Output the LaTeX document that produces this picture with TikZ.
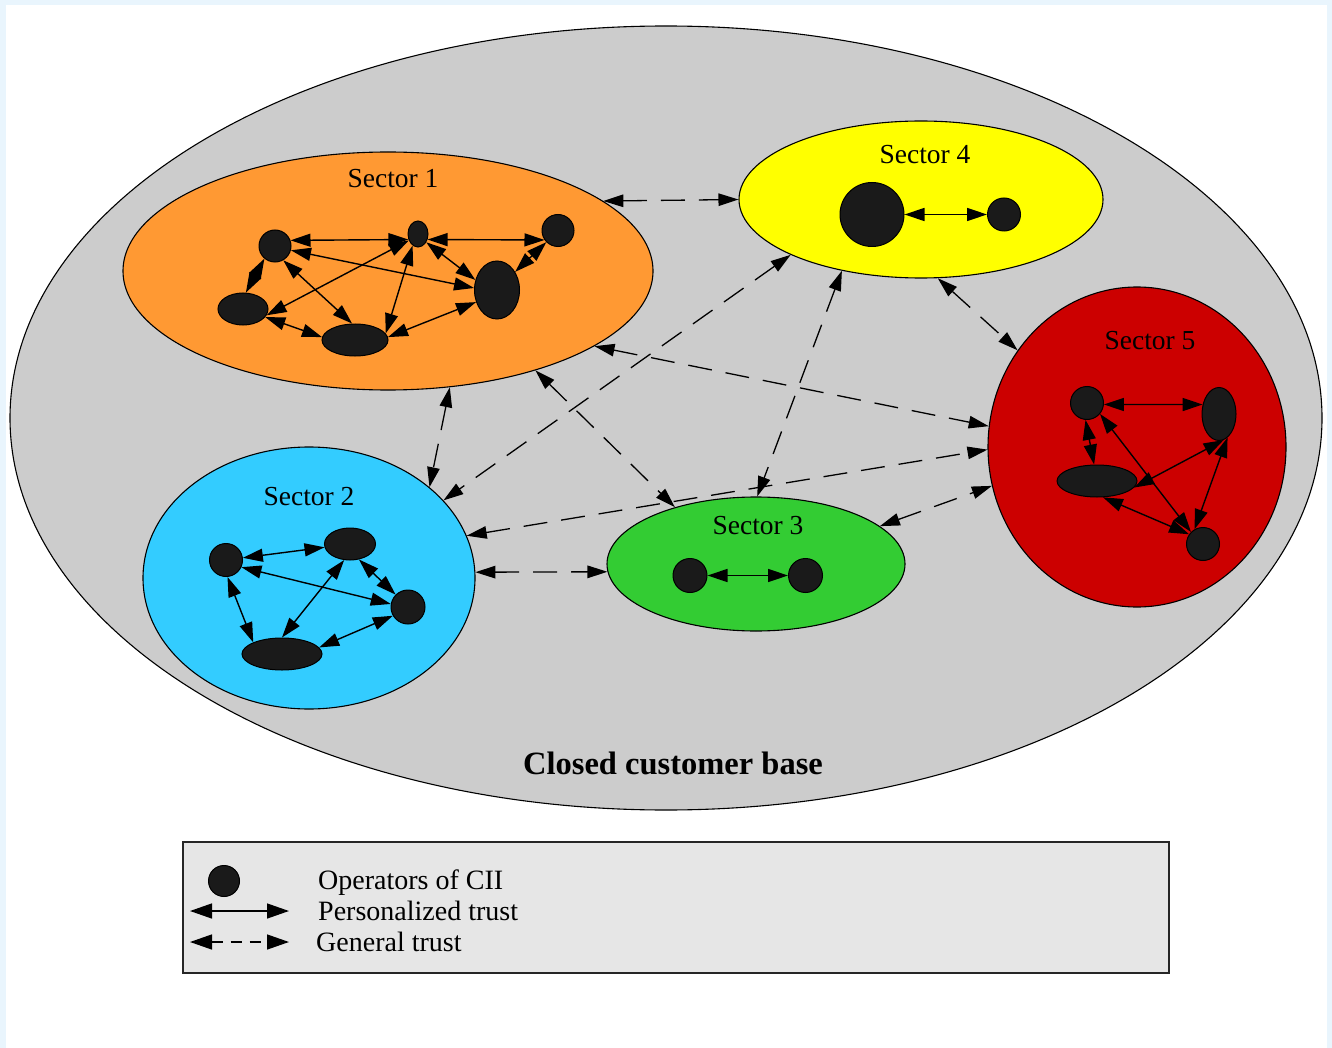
\documentclass[tikz,border=0pt]{standalone}
\usepackage{fontspec}
\setmainfont{Liberation Serif}
\usetikzlibrary{shapes.geometric,arrows.meta}
\definecolor{framebg}{HTML}{E9F5FD}
\definecolor{basegray}{HTML}{CCCCCC}
\definecolor{s1col}{HTML}{FF9933}
\definecolor{s2col}{HTML}{33CCFF}
\definecolor{s3col}{HTML}{33CC33}
\definecolor{s4col}{HTML}{FFFF00}
\definecolor{s5col}{HTML}{CC0000}
\definecolor{opfill}{HTML}{1A1A1A}
\definecolor{legendbg}{HTML}{E6E6E6}

\begin{document}
\begin{tikzpicture}[x=1pt,y=-1pt,
  sector/.style={ellipse, draw=black, line width=1.1pt, inner sep=0pt},
  op/.style 2 args={ellipse, draw=black, fill=opfill, line width=1pt, inner sep=0pt,
                    minimum width=#1pt, minimum height=#2pt},
  ptrust/.style={arrows={Triangle[length=20pt,width=13pt]-Triangle[length=20pt,width=13pt]},
                 line width=1.4pt},
  gtrust/.style={arrows={Triangle[length=20pt,width=12.5pt]-Triangle[length=20pt,width=12.5pt]},
                 line width=1.3pt, dash pattern=on 24pt off 14pt},
  legp/.style={arrows={Triangle[length=22pt,width=15pt]-Triangle[length=22pt,width=15pt]},
               line width=1.4pt},
  legg/.style={arrows={Triangle[length=22pt,width=15pt]-Triangle[length=22pt,width=15pt]},
               line width=1.4pt, dash pattern=on 11pt off 8pt},
  seclabel/.style={font=\fontsize{27.5pt}{33pt}\selectfont, inner sep=0pt, anchor=base},
  legtext/.style={font=\fontsize{28pt}{34pt}\selectfont, inner sep=0pt, anchor=base west}
]
\useasboundingbox (0,0) rectangle (1332,1048);

% page frame
\fill[framebg] (0,0) rectangle (1332,1048);
\fill[white] (6,5) rectangle (1327,1048);

% closed customer base
\node[sector, fill=basegray, minimum width=1312pt, minimum height=784pt] (base) at (666,418) {};

% sectors
\node[sector, fill=s1col, minimum width=530pt, minimum height=238pt] (s1) at (388,271) {};
\node[sector, fill=s2col, minimum width=332pt, minimum height=262pt] (s2) at (309,578) {};
\node[sector, fill=s3col, minimum width=298pt, minimum height=134pt] (s3) at (756,564) {};
\node[sector, fill=s4col, minimum width=364pt, minimum height=157pt] (s4) at (921,199.5) {};
\node[sector, fill=s5col, minimum width=298pt, minimum height=320pt] (s5) at (1137,447) {};

% general trust between sectors
\draw[gtrust] (s1.18)  -- (s4.180);
\draw[gtrust] (s4.203) -- (s2.30);
\draw[gtrust] (s4.222) -- (s3.89);
\draw[gtrust] (s4.282) -- (s5.141);
\draw[gtrust] (s1.298) -- (s2.37);
\draw[gtrust] (s1.326) -- (s3.145);
\draw[gtrust] (s1.340) -- (s5.172);
\draw[gtrust] (s2.15)  -- (s5.181);
\draw[gtrust] (s2.2)   -- (s3.183);
\draw[gtrust] (s3.17)  -- (s5.195);

% operators, sector 1
\node[op={32}{32}] (a) at (275,246) {};
\node[op={20}{26}] (b) at (418,234) {};
\node[op={32}{32}] (c) at (558,230.5) {};
\node[op={45}{58}] (d) at (497,290) {};
\node[op={50}{32}] (e) at (243,309) {};
\node[op={66}{32}] (f) at (355,340) {};

% operators, sector 2
\node[op={33}{33}] (g) at (226,560) {};
\node[op={51}{32}] (h) at (350,544) {};
\node[op={34}{34}] (i) at (408,607) {};
\node[op={80}{32}] (j) at (282,654) {};

% operators, sector 3
\node[op={34}{34}] (p) at (690,575.5) {};
\node[op={34}{34}] (q) at (805.5,575.5) {};

% operators, sector 4
\node[op={64}{64}] (r) at (872,214.5) {};
\node[op={33}{33}] (t) at (1004,214.5) {};

% operators, sector 5
\node[op={33}{33}] (k) at (1087,403) {};
\node[op={34}{53}] (l) at (1219,414) {};
\node[op={80}{32}] (m) at (1097,481) {};
\node[op={33}{33}] (n) at (1203,544) {};

% personalized trust, sector 1
\draw[ptrust] (a.20)  -- (b.210);
\draw[ptrust] (b.330) -- (c.215);
\draw[ptrust] (a.345) -- (d.175);
\draw[ptrust] (a.300) -- (f.100);
\draw[ptrust] (a.230) -- (e.80);
\draw[ptrust] (b.215) -- (e.345);
\draw[ptrust] (b.245) -- (f.12);
\draw[ptrust] (b.315) -- (d.155);
\draw[ptrust] (c.225) -- (d.45);
\draw[ptrust] (e.340) -- (f.175);
\draw[ptrust] (f.5)   -- (d.210);

% personalized trust, sector 2
\draw[ptrust] (g) -- (h);
\draw[ptrust] (g.335) -- (i.170);
\draw[ptrust] (g.275) -- (j.158);
\draw[ptrust] (h.300) -- (i.135);
\draw[ptrust] (h.250) -- (j.90);
\draw[ptrust] (j.10)  -- (i.210);

% personalized trust, sectors 3 and 4
\draw[ptrust] (p) -- (q);
\draw[ptrust] (r) -- (t);

% personalized trust, sector 5
\draw[ptrust] (k.355) -- (l.150);
\draw[ptrust] (k.265) -- (m.100);
\draw[ptrust] (k.320) -- (n.135);
\draw[ptrust] (l.280) -- (m.350);
\draw[ptrust] (l.290) -- (n.120);
\draw[ptrust] (m.290) -- (n.145);

% sector labels
\node[seclabel] (l1) at (393,188) {Sector 1};
\node[seclabel] (l2) at (309,505) {Sector 2};
\node[seclabel] (l3) at (758,534) {Sector 3};
\node[seclabel] (l4) at (925,163.5) {Sector 4};
\node[seclabel] (l5) at (1150,349) {Sector 5};

\node[font=\bfseries\fontsize{32.5pt}{39pt}\selectfont, inner sep=0pt, anchor=base]
  (title) at (673,774) {Closed customer base};

% legend
\node[draw=black!85, fill=legendbg, line width=1.2pt, inner sep=0pt,
      minimum width=986pt, minimum height=131pt] (legend) at (676,907.5) {};
\node[op={31}{31}] (lop) at (224,881) {};
\coordinate (lpa) at (190,911);
\coordinate (lpb) at (289,911);
\draw[legp] (lpa) -- (lpb);
\coordinate (lga) at (190,942);
\coordinate (lgb) at (289,942);
\draw[legg] (lga) -- (lgb);
\node[legtext] (lt1) at (318,889) {Operators of CII};
\node[legtext] (lt2) at (318,920) {Personalized trust};
\node[legtext] (lt3) at (316,951) {General trust};
\end{tikzpicture}
\end{document}
